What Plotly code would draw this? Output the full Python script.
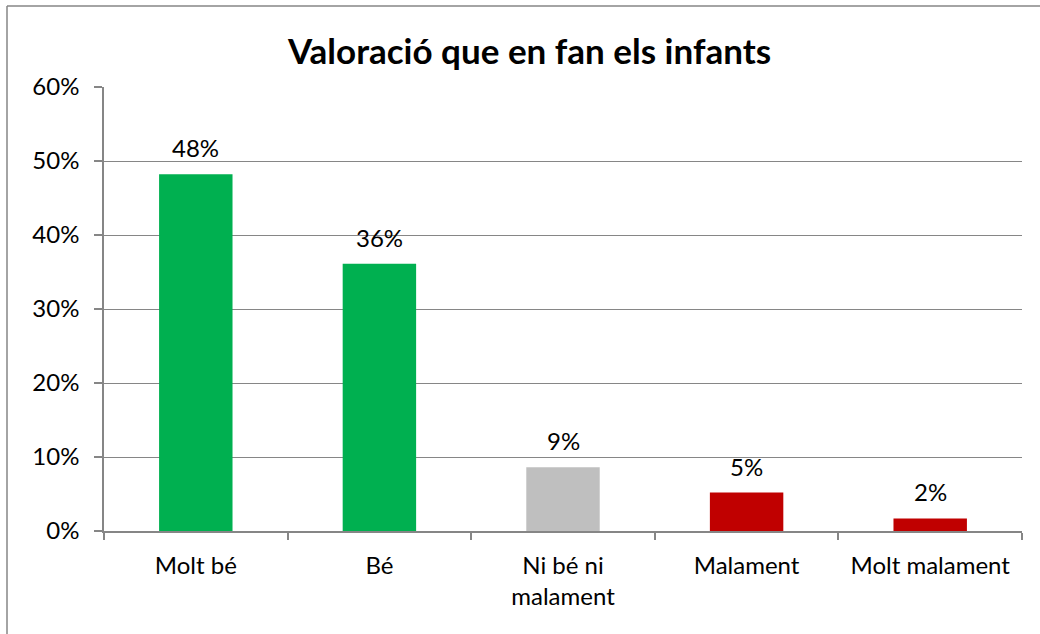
import plotly.graph_objects as go

categories = ["Molt bé", "Bé", "Ni bé ni<br>malament", "Malament", "Molt malament"]
values = [48.2, 36.1, 8.6, 5.2, 1.7]
bar_colors = ["#00B050", "#00B050", "#BFBFBF", "#C00000", "#C00000"]
y_ticks = [0, 10, 20, 30, 40, 50, 60]
y_tick_labels = ["0%", "10%", "20%", "30%", "40%", "50%", "60%"]

FONT = "Lato"
GRID = "#868686"
FS = 24

fig = go.Figure()
fig.add_trace(go.Bar(
    x=categories, y=values,
    marker=dict(color=bar_colors, line=dict(width=0)),
    hoverinfo="skip",
))
for c, v in zip(categories, values):
    fig.add_annotation(x=c, y=v, text=f"{v:.0f}%", showarrow=False,
                       yanchor="bottom", yshift=10,
                       font=dict(family=FONT, size=FS, color="#000000"))

L, R, T, B = 104, 18, 87, 103
W, H = 1040, 634
pw, ph = W - L - R, H - T - B

def px_x(x):
    return (x - L) / pw

def px_y(y):
    return (H - B - y) / ph

fig.update_layout(
    width=W, height=H,
    margin=dict(l=L, r=R, t=T, b=B, pad=0),
    paper_bgcolor="white", plot_bgcolor="white",
    showlegend=False,
    bargap=0.6,
    title=dict(text="<b>Valoració que en fan els infants</b>",
               x=529.5 / W, xref="container", xanchor="center",
               y=1 - 52 / H, yref="container", yanchor="middle",
               font=dict(family=FONT, size=35, color="#000000")),
    font=dict(family=FONT, size=FS, color="#000000"),
    xaxis=dict(
        type="category",
        showline=True, linecolor=GRID, linewidth=1.5,
        ticks="outside", tickson="boundaries", ticklen=7, tickcolor=GRID, tickwidth=1.5,
        showgrid=False,
        tickfont=dict(family=FONT, size=FS, color="#000000"),
        ticklabelstandoff=12,
    ),
    yaxis=dict(
        range=[0, 60], tickvals=y_ticks, ticktext=y_tick_labels,
        showline=True, linecolor=GRID, linewidth=1.5,
        ticks="outside", ticklen=8, tickcolor=GRID, tickwidth=1.5,
        showgrid=True, gridcolor=GRID, gridwidth=1,
        zeroline=False,
        tickfont=dict(family=FONT, size=FS, color="#000000"),
        ticklabelstandoff=10,
    ),
    shapes=[
        dict(type="line", xref="paper", yref="paper",
             x0=px_x(7), x1=px_x(7), y0=px_y(634), y1=px_y(6),
             line=dict(color=GRID, width=1.5)),
        dict(type="line", xref="paper", yref="paper",
             x0=px_x(7), x1=px_x(1040), y0=px_y(6), y1=px_y(6),
             line=dict(color=GRID, width=1.5)),
    ],
)

fig.write_html("out.html", config={"displayModeBar": False},
               post_script="document.body.style.margin='0';document.body.style.overflow='hidden';")
